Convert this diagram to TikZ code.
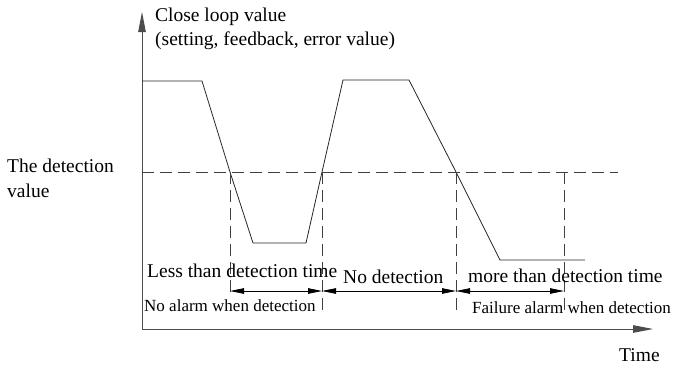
\documentclass[tikz,border=0pt]{standalone}
\usepackage{fontspec}
\setmainfont{Liberation Serif}
\usetikzlibrary{arrows.meta}

\tikzset{
  axis/.style={draw=black!70, line width=0.9pt, -{Triangle[length=20pt,width=7.5pt]}},
  curve/.style={draw=black!85, line width=0.8pt},
  guide/.style={draw=black!75, line width=0.8pt, dash pattern=on 12pt off 6pt},
  span/.style={draw=black, line width=0.8pt,
    {Triangle[length=14pt,width=5.5pt]}-{Triangle[length=14pt,width=5.5pt]}},
  biglabel/.style={font=\fontsize{19.5}{24}\selectfont, inner sep=0pt, anchor=base west},
  smalllabel/.style={font=\fontsize{17}{20}\selectfont, inner sep=0pt, anchor=base west},
}

\begin{document}
\begin{tikzpicture}[x=1pt, y=-1pt]
    \useasboundingbox (0,0) rectangle (674,367);

    % axes
    \coordinate (O) at (142,329);
    \coordinate (ytop) at (142,12);
    \coordinate (xend) at (653,329);
    \draw[axis] (O) -- (ytop);
    \draw[axis] (O) -- (xend);

    % close loop value
    \coordinate (p0) at (142,81);
    \coordinate (p1) at (202,81);
    \coordinate (c1) at (230,172);
    \coordinate (p2) at (253,243);
    \coordinate (p3) at (306,243);
    \coordinate (c2) at (322,172);
    \coordinate (p4) at (343,80);
    \coordinate (p5) at (409,80);
    \coordinate (c3) at (456,172);
    \coordinate (p6) at (500,260);
    \coordinate (p7) at (585,260);
    \draw[curve] (p0) -- (p1) -- (c1) -- (p2) -- (p3) -- (c2) -- (p4) -- (p5) -- (c3) -- (p6) -- (p7);

    % detection level and time marks
    \coordinate (lvlA) at (142,172);
    \coordinate (lvlB) at (618,172);
    \coordinate (c4) at (564,172);
    \coordinate (d1) at (230,297);
    \coordinate (d2) at (322,313);
    \coordinate (d3) at (456,310);
    \coordinate (d4) at (564,310);
    \draw[guide] (lvlA) -- (lvlB);
    \draw[guide] (c1) -- (d1);
    \draw[guide] (c2) -- (d2);
    \draw[guide] (c3) -- (d3);
    \draw[guide] (c4) -- (d4);

    % time spans
    \coordinate (s1) at (230,291);
    \coordinate (s2) at (322,291);
    \coordinate (s3) at (456,291);
    \coordinate (s4) at (564,291);
    \draw[span] (s1) -- (s2);
    \draw[span] (s2) -- (s3);
    \draw[span] (s3) -- (s4);

    % labels
    \node[biglabel] (ylab1) at (155,21) {Close loop value};
    \node[biglabel] (ylab2) at (155,45) {(setting, feedback, error value)};
    \node[biglabel] (det1) at (7,172) {The detection};
    \node[biglabel] (det2) at (7,197) {value};
    \node[biglabel] (less) at (147,277) {Less than detection time};
    \node[biglabel] (none) at (343,283) {No detection};
    \node[biglabel] (more) at (468,282) {more than detection time};
    \node[smalllabel] (noalarm) at (144,311) {No alarm when detection};
    \node[smalllabel] (fail) at (472,313) {Failure alarm when detection};
    \node[biglabel] (time) at (619,361) {Time};
\end{tikzpicture}
\end{document}
